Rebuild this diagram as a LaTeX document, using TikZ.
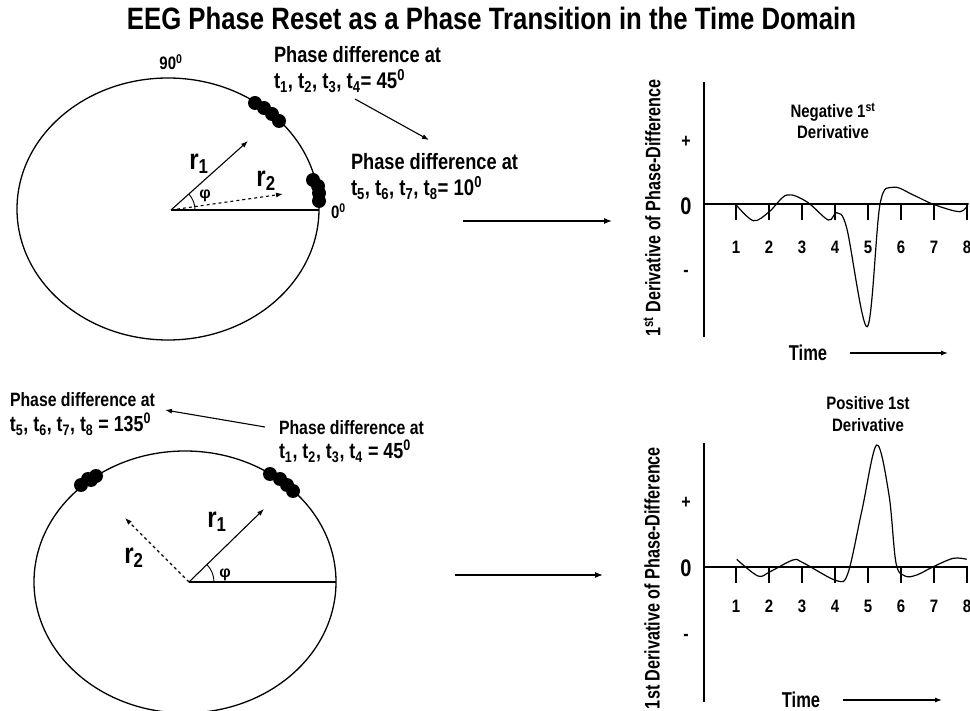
\documentclass[tikz,border=0pt]{standalone}
\usepackage{fontspec}
\setmainfont{Liberation Sans}
\usetikzlibrary{arrows.meta}
\newcommand\fsz[1]{\fontsize{#1}{#1}\selectfont}
\newcommand\fitw[3][1.22]{\resizebox{#2pt}{!}{\scalebox{1}[#1]{#3}}}
\newcommand\tall[2][1.2]{\scalebox{1}[#1]{#2}}
\begin{document}
\begin{tikzpicture}[x=1pt,y=-1pt,
  every node/.style={inner sep=0pt, outer sep=0pt, font=\bfseries},
  ln/.style={line width=1.3pt},
  arr/.style={line width=1.3pt, -{Latex[length=8pt,width=6pt]}},
  vec/.style={line width=1.1pt, -{Latex[length=7pt,width=5pt]}},
  dot/.style={circle, fill=black, minimum size=14pt},
  ]
\useasboundingbox (0,0) rectangle (970,711);

% title
\node (title) at (491.5,18) {\fitw[1.2]{729}{\fsz{24}EEG Phase Reset as a Phase Transition in the Time Domain}};

% ===== top circle =====
\draw[ln] (168,209) ellipse [x radius=151, y radius=131];
\coordinate (o1) at (171,210);
\coordinate (e1) at (319,210);
\draw[ln] (o1) -- (e1);
\coordinate (r1t) at (248,141);
\coordinate (r2t) at (283,194);
\draw[vec] (o1) -- (r1t);
\draw[vec, dashed] (o1) -- (r2t);
\draw[line width=0.9pt] (195,210) arc[start angle=0, end angle=-42, radius=24];
\node (r1a) at (199,164) {\tall{\fsz{24}r\textsubscript{1}}};
\node (r2a) at (266,181) {\tall{\fsz{24}r\textsubscript{2}}};
\node (phia) at (205,196) {\fsz{16}φ};
\node (l90) at (171,62) {\tall{\fsz{15}90\textsuperscript{0}}};
\node[anchor=west] (l0) at (331,211) {\tall{\fsz{15}0\textsuperscript{0}}};
\foreach \n/\p in {a/{(255,103)},b/{(264,108)},c/{(272,114)},d/{(279,121)},
                   e/{(313,180)},f/{(318,186)},g/{(319,193)},h/{(319,201)}}
  \node[dot] (td\n) at \p {};
\node[anchor=west] (pa1) at (274,55) {\fitw{167}{\fsz{18}Phase difference at}};
\node[anchor=west] (pa2) at (274,81) {\fitw{131}{\fsz{18}t\textsubscript{1}, t\textsubscript{2}, t\textsubscript{3}, t\textsubscript{4}= 45\textsuperscript{0}}};
\node[anchor=west] (pb1) at (351,162) {\fitw{167}{\fsz{18}Phase difference at}};
\node[anchor=west] (pb2) at (351,188) {\fitw{131}{\fsz{18}t\textsubscript{5}, t\textsubscript{6}, t\textsubscript{7}, t\textsubscript{8}= 10\textsuperscript{0}}};
\coordinate (ta) at (355,99);
\coordinate (tb) at (429,140);
\draw[vec] (ta) -- (tb);
\coordinate (h1a) at (463,221);
\coordinate (h1b) at (612,221);
\draw[arr] (h1a) -- (h1b);

% ===== top graph =====
\coordinate (ga0) at (704,82);
\coordinate (ga1) at (704,337);
\coordinate (gx0) at (704,204);
\coordinate (gx1) at (968,204);
\draw[ln] (ga0) -- (ga1);
\draw[ln] (gx0) -- (gx1);
\foreach \i/\x in {1/736,2/769,3/802,4/835,5/868,6/901,7/934,8/967}{
  \draw[ln] (\x,204) -- (\x,220);
  \node (tla\i) at (\x,247) {\tall{\fsz{15}\i}};
}
\node (plA) at (686,142) {\tall{\fsz{16}+}};
\node (zeA) at (686,206) {\tall{\fsz{20}0}};
\node (miA) at (686,273) {\tall{\fsz{16}-}};
\node[rotate=90] (ylA) at (652,208) {\fitw[1.3]{257}{\fsz{15}1\textsuperscript{st} Derivative of Phase-Difference}};
\node (negA) at (833,112) {\tall{\fsz{15}Negative 1\textsuperscript{st}}};
\node (negB) at (833,132) {\tall{\fsz{15}Derivative}};
\node (timeA) at (808,353) {\tall[1.3]{\fsz{16.5}Time}};
\coordinate (tma) at (850,353);
\coordinate (tmb) at (948,353);
\draw[vec] (tma) -- (tmb);
\draw[line width=1.2pt] plot[smooth, tension=0.55] coordinates {
 (735.7,204.3) (753.3,220.7) (769.3,211.7) (786.7,195) (806.7,201.7)
 (828.3,220) (836.7,212.7) (846.7,228) (867.3,326.7) (880,204.3)
 (893.3,187.3) (913.3,195) (933.3,204.3) (960,211.7) (968.3,203.3)};

% ===== bottom circle =====
\draw[ln] (185,582) ellipse [x radius=151, y radius=131];
\coordinate (o2) at (189,582);
\coordinate (e2) at (336,582);
\draw[ln] (o2) -- (e2);
\coordinate (s1t) at (264,509);
\coordinate (s2t) at (125,518);
\draw[vec] (o2) -- (s1t);
\draw[vec, dashed] (o2) -- (s2t);
\draw[line width=0.9pt] (214,582) arc[start angle=0, end angle=-44, radius=25];
\node (r1b) at (217,522) {\tall{\fsz{24}r\textsubscript{1}}};
\node (r2b) at (134,558) {\tall{\fsz{24}r\textsubscript{2}}};
\node (phib) at (225,575) {\fsz{16}φ};
\foreach \n/\p in {a/{(270,474)},b/{(280,479)},c/{(287,485)},d/{(293,491)},
                   e/{(81,485)},f/{(88,479)},g/{(96,476)},h/{(91,480)}}
  \node[dot] (bd\n) at \p {};
\node[anchor=west] (qa1) at (10,400) {\fitw{145}{\fsz{16}Phase difference at}};
\node[anchor=west] (qa2) at (10,424) {\fitw{141}{\fsz{16}t\textsubscript{5}, t\textsubscript{6}, t\textsubscript{7}, t\textsubscript{8} = 135\textsuperscript{0}}};
\node[anchor=west] (qb1) at (279,428) {\fitw{145}{\fsz{16}Phase difference at}};
\node[anchor=west] (qb2) at (279,451) {\fitw{132}{\fsz{16}t\textsubscript{1}, t\textsubscript{2}, t\textsubscript{3}, t\textsubscript{4} = 45\textsuperscript{0}}};
\coordinate (ua) at (265,427);
\coordinate (ub) at (165,410);
\draw[vec] (ua) -- (ub);
\coordinate (h2a) at (455,575);
\coordinate (h2b) at (603,575);
\draw[arr] (h2a) -- (h2b);

% ===== bottom graph =====
\coordinate (gb0) at (704,443);
\coordinate (gb1) at (704,702);
\coordinate (gy0) at (704,567);
\coordinate (gy1) at (968,567);
\draw[ln] (gb0) -- (gb1);
\draw[ln] (gy0) -- (gy1);
\foreach \i/\x in {1/736,2/769,3/802,4/835,5/868,6/901,7/934,8/967}{
  \draw[ln] (\x,567) -- (\x,583);
  \node (tlb\i) at (\x,606) {\tall{\fsz{15}\i}};
}
\node (plB) at (686,503) {\tall{\fsz{16}+}};
\node (zeB) at (686,568) {\tall{\fsz{20}0}};
\node (miB) at (686,637) {\tall{\fsz{16}-}};
\node[rotate=90] (ylB) at (652,578) {\fitw[1.3]{262}{\fsz{15}1st Derivative of Phase-Difference}};
\node (posA) at (868,403) {\tall{\fsz{15}Positive 1st}};
\node (posB) at (868,425) {\tall{\fsz{15}Derivative}};
\node (timeB) at (801,700) {\tall[1.3]{\fsz{16.5}Time}};
\coordinate (tmc) at (843,700);
\coordinate (tmd) at (942,700);
\draw[vec] (tmc) -- (tmd);
\draw[line width=1.2pt] plot[smooth, tension=0.55] coordinates {
 (736.7,559.3) (758,576) (770,571.7) (793,560) (803,562.7)
 (836.7,580.7) (848,573) (862,510) (876.7,445)
 (889,495) (896,563) (905,576) (916.7,575) (933.3,566.7)
 (953.3,558.3) (966.7,559.3)};
\end{tikzpicture}
\end{document}
